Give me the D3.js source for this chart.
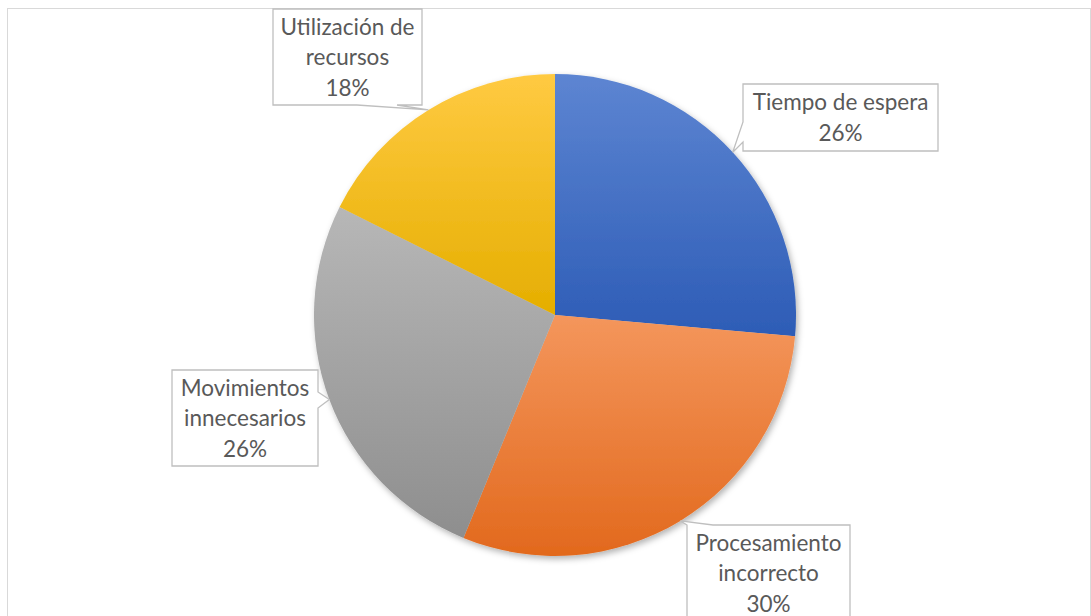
<html>
<head>
<meta charset="utf-8">
<title>Pie</title>
<script src="https://d3js.org/d3.v7.min.js"></script>
<style>
  body { margin: 0; background: #fff; }
  svg text { font-family: Lato, "Open Sans", sans-serif; fill: #595959; }
</style>
</head>
<body>
<div id="chart"></div>
<script>
// data
const categories = ["Tiempo de espera", "Procesamiento incorrecto", "Movimientos innecesarios", "Utilización de recursos"];
const labelLines = [["Tiempo de espera"], ["Procesamiento", "incorrecto"], ["Movimientos", "innecesarios"], ["Utilización de", "recursos"]];
const values = [26.4, 29.8, 26.2, 17.6];

// looks
const colorsTop = ["#5d85d2", "#f4965c", "#b7b7b7", "#ffca42"];
const colorsBot = ["#2d5cb6", "#e2691d", "#8e8e8e", "#e5ae00"];

// callout boxes: [x, y, w, h, side of the wedge, wedge start, wedge end]
const boxes = [
  [743, 84, 195, 67, "left", 122, 142],
  [687, 525, 163, 96, "top", 687, 713],
  [172, 370, 146, 96, "right", 392, 408],
  [273, 9, 149, 96, "bottom", 357, 397]
];

const width = 1091, height = 616;
const cx = 555, cy = 315, r = 241;

const svg = d3.select("#chart").append("svg")
  .attr("width", width)
  .attr("height", height);

// chart frame
svg.append("rect")
  .attr("x", 7.5).attr("y", 8.5)
  .attr("width", 1083).attr("height", 640)
  .attr("fill", "none")
  .attr("stroke", "#d9d9d9");

const defs = svg.append("defs");
const shadow = defs.append("filter").attr("id", "shadow")
  .attr("x", "-10%").attr("y", "-10%").attr("width", "120%").attr("height", "120%");
shadow.append("feDropShadow")
  .attr("dx", 2).attr("dy", 3).attr("stdDeviation", 3)
  .attr("flood-color", "#000").attr("flood-opacity", 0.3);

values.forEach(function(v, i) {
  const g = defs.append("linearGradient").attr("id", "grad" + i)
    .attr("x1", 0).attr("y1", 0).attr("x2", 0).attr("y2", 1);
  g.append("stop").attr("offset", "0%").attr("stop-color", colorsTop[i]);
  g.append("stop").attr("offset", "100%").attr("stop-color", colorsBot[i]);
});

const pie = d3.pie().sort(null).value(d => d);
const arcs = pie(values);
const arc = d3.arc().innerRadius(0).outerRadius(r);
const edge = d3.arc().innerRadius(r).outerRadius(r);

const pg = svg.append("g")
  .attr("transform", "translate(" + cx + "," + cy + ")");

const slices = pg.append("g").attr("filter", "url(#shadow)");
slices.selectAll("path")
  .data(arcs)
  .enter().append("path")
  .attr("d", arc)
  .attr("fill", (d, i) => "url(#grad" + i + ")");

// callouts
arcs.forEach(function(d, i) {
  const b = boxes[i];
  const x = b[0], y = b[1], w = b[2], h = b[3];
  const p = edge.centroid(d);
  const tx = cx + p[0], ty = cy + p[1];
  let pts;
  if (b[4] == "left") {
    pts = [[x, y], [x + w, y], [x + w, y + h], [x, y + h], [x, b[6]], [tx, ty], [x, b[5]]];
  } else if (b[4] == "right") {
    pts = [[x, y], [x + w, y], [x + w, b[5]], [tx, ty], [x + w, b[6]], [x + w, y + h], [x, y + h]];
  } else if (b[4] == "top") {
    pts = [[x, y], [tx, ty], [b[6], y], [x + w, y], [x + w, y + h], [x, y + h]];
  } else {
    pts = [[x, y], [x + w, y], [x + w, y + h], [b[6], y + h], [tx, ty], [b[5], y + h], [x, y + h]];
  }
  svg.append("path")
    .attr("d", "M" + pts.map(q => q.join(",")).join("L") + "Z")
    .attr("fill", "#fff")
    .attr("stroke", "#bfbfbf")
    .attr("stroke-width", 1.3);

  const lines = labelLines[i].concat([Math.round(values[i]) + "%"]);
  const lh = 30.5;
  const first = y + h / 2 - (lines.length - 1) * lh / 2 + 8;
  const t = svg.append("text")
    .attr("text-anchor", "middle")
    .style("font-size", "22.5px");
  lines.forEach(function(s, k) {
    t.append("tspan")
      .attr("x", x + w / 2)
      .attr("y", first + k * lh)
      .text(s);
  });
});
</script>
</body>
</html>
